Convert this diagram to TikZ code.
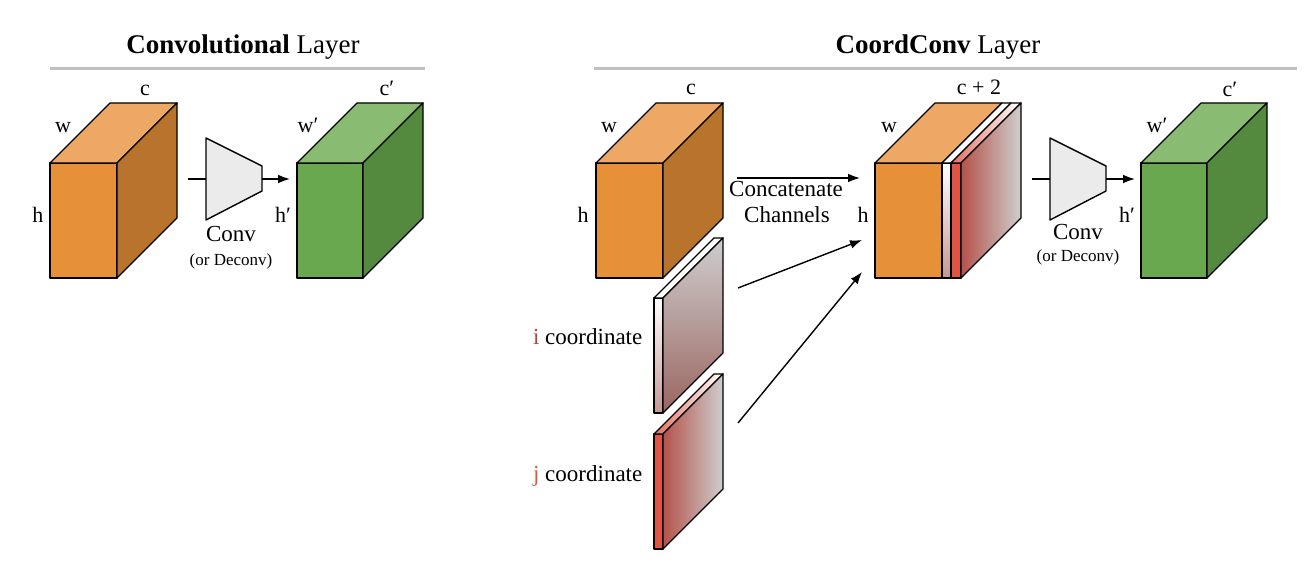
\documentclass[tikz,border=0pt]{standalone}
\usepackage{fontspec}
\setmainfont{Liberation Serif}
\usetikzlibrary{arrows.meta}

\definecolor{orangeFront}{HTML}{E69138}
\definecolor{orangeTop}{HTML}{ECA864}
\definecolor{orangeSide}{HTML}{B8732C}
\definecolor{greenFront}{HTML}{6AA84F}
\definecolor{greenTop}{HTML}{89BB73}
\definecolor{greenSide}{HTML}{548A3E}
\definecolor{coordGray}{HTML}{CECECE}
\definecolor{coordRed}{HTML}{E05444}
\definecolor{iBrown}{HTML}{9B6661}
\definecolor{iPink}{HTML}{C49894}
\definecolor{jBrown}{HTML}{B5524A}
\definecolor{convGray}{HTML}{EBEBEB}
\definecolor{ruleGray}{HTML}{C0C0C0}

% feature map: x, y (front top left), width, front, top, side
\newcommand{\featmap}[6]{%
    \filldraw[fill=#4] (#1,#2) rectangle ++(#3,115);
    \filldraw[fill=#5] (#1,#2) -- ++(60,-60) -- ++(#3,0) -- ++(-60,60) -- cycle;
    \filldraw[fill=#6] (#1+#3,#2) -- ++(60,-60) -- ++(0,115) -- ++(-60,60) -- cycle;
}
% conv block: x of left edge, y of middle
\newcommand{\convblock}[2]{%
    \filldraw[fill=convGray] (#1,#2-41) -- (#1+56,#2-13) -- (#1+56,#2+12) -- (#1,#2+41) -- cycle;
}

\begin{document}
\begin{tikzpicture}[x=0.5pt,y=-0.5pt,line width=0.7pt,line join=round,
    dim/.style={font=\fontsize{11}{13}\selectfont,anchor=base,inner sep=0pt},
    txt/.style={font=\fontsize{11.5}{14}\selectfont,anchor=base,inner sep=0pt},
    small/.style={font=\fontsize{8.5}{10}\selectfont,anchor=base,inner sep=0pt},
    title/.style={font=\fontsize{13.5}{16}\selectfont,anchor=base,inner sep=0pt},
    rule/.style={draw=ruleGray,line width=1.5pt},
    flow/.style={-{Latex[length=6pt,width=4.4pt]}}]

    \useasboundingbox (0,0) rectangle (1308,572);

    % Titles and rules
    \node[title] (convTitle) at (243,54) {\textbf{Convolutional} Layer};
    \node[title] (coordTitle) at (938,54) {\textbf{CoordConv} Layer};
    \draw[rule] (50,69) -- (425,69);
    \draw[rule] (594,69) -- (1297,69);

    % Convolutional layer
    \featmap{50}{163}{67}{orangeFront}{orangeTop}{orangeSide}
    \convblock{206}{179}
    \featmap{297}{163}{66}{greenFront}{greenTop}{greenSide}

    \node[dim] (inC) at (145,96) {c};
    \node[dim] (inW) at (63,133) {w};
    \node[dim] (inH) at (38,223) {h};
    \node[dim] (outC) at (387,96) {c′};
    \node[dim] (outW) at (308,133) {w′};
    \node[dim] (outH) at (283,223) {h′};
    \node[txt] (convA) at (231,242) {Conv};
    \node[small] (deconvA) at (231,266) {(or Deconv)};

    \coordinate (inA) at (188,179);
    \coordinate (trapLA) at (206,179);
    \coordinate (trapRA) at (262,179);
    \coordinate (outA) at (290,179);
    \draw (inA) -- (trapLA);
    \draw[flow] (trapRA) -- (outA);

    % CoordConv layer: input
    \featmap{596}{163}{67}{orangeFront}{orangeTop}{orangeSide}
    \node[dim] (ccInC) at (691,95) {c};
    \node[dim] (ccInW) at (609,133) {w};
    \node[dim] (ccInH) at (583,223) {h};

    % i coordinate channel
    \shadedraw[top color=white,bottom color=iPink] (654,298) rectangle ++(9,115);
    \filldraw[fill=white] (654,298) -- ++(60,-60) -- ++(9,0) -- ++(-60,60) -- cycle;
    \shadedraw[top color=coordGray,bottom color=iBrown] (663,298) -- ++(60,-60) -- ++(0,115) -- ++(-60,60) -- cycle;
    \node[txt,anchor=base east] (iLabel) at (643,345) {\textcolor{coordRed!80!black}{i} coordinate};

    % j coordinate channel
    \filldraw[fill=coordRed] (654,434) rectangle ++(9,115);
    \shadedraw[left color=coordRed!85!white,right color=white] (654,434) -- ++(60,-60) -- ++(9,0) -- ++(-60,60) -- cycle;
    \shadedraw[left color=jBrown,right color=coordGray] (663,434) -- ++(60,-60) -- ++(0,115) -- ++(-60,60) -- cycle;
    \node[txt,anchor=base east] (jLabel) at (643,481) {\textcolor{coordRed}{j} coordinate};

    % concatenated map
    \filldraw[fill=orangeFront] (875,163) rectangle ++(67,115);
    \filldraw[fill=orangeTop] (875,163) -- ++(60,-60) -- ++(67,0) -- ++(-60,60) -- cycle;
    \shadedraw[top color=white,bottom color=iPink] (942,163) rectangle ++(9,115);
    \filldraw[fill=white] (942,163) -- ++(60,-60) -- ++(9,0) -- ++(-60,60) -- cycle;
    \filldraw[fill=coordRed] (951,163) rectangle ++(10,115);
    \shadedraw[left color=coordRed!85!white,right color=white] (951,163) -- ++(60,-60) -- ++(10,0) -- ++(-60,60) -- cycle;
    \shadedraw[left color=jBrown,right color=coordGray] (961,163) -- ++(60,-60) -- ++(0,115) -- ++(-60,60) -- cycle;
    \node[dim] (catC) at (979,95) {c + 2};
    \node[dim] (catW) at (889,133) {w};
    \node[dim] (catH) at (863,223) {h};

    \coordinate (catFrom) at (737,178);
    \coordinate (catTo) at (860,178);
    \coordinate (iFrom) at (738,288);
    \coordinate (iTo) at (862,240);
    \coordinate (jFrom) at (738,423);
    \coordinate (jTo) at (862,272);
    \draw[flow] (catFrom) -- (catTo);
    \draw[flow] (iFrom) -- (iTo);
    \draw[flow] (jFrom) -- (jTo);
    \node[txt] (catText) at (786,197) {Concatenate};
    \node[txt] (chanText) at (787,223) {Channels};

    % conv and output
    \convblock{1050}{179}
    \featmap{1141}{163}{66}{greenFront}{greenTop}{greenSide}
    \node[txt] (convB) at (1078,240) {Conv};
    \node[small] (deconvB) at (1078,262) {(or Deconv)};
    \node[dim] (ccOutC) at (1230,97) {c′};
    \node[dim] (ccOutW) at (1157,133) {w′};
    \node[dim] (ccOutH) at (1127,223) {h′};

    \coordinate (inB) at (1032,179);
    \coordinate (trapLB) at (1050,179);
    \coordinate (trapRB) at (1106,179);
    \coordinate (outB) at (1135,179);
    \draw (inB) -- (trapLB);
    \draw[flow] (trapRB) -- (outB);

\end{tikzpicture}
\end{document}
